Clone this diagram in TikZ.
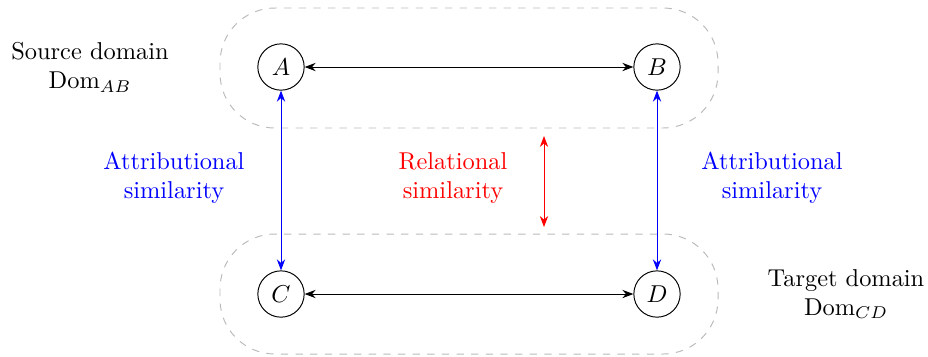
\documentclass[tikz,border=0pt]{standalone}
\usetikzlibrary{arrows.meta}
\begin{document}
\begin{tikzpicture}[x=0.41pt,y=-0.41pt,
  ent/.style={draw,circle,minimum size=19pt,inner sep=0pt,line width=0.4pt},
  dombox/.style={draw=black!27,dashed,rounded corners=22.5pt,line width=0.4pt},
  lbl/.style={align=center,inner sep=0pt},
  dbl/.style={{Stealth[length=4.5pt,width=3.4pt]}-{Stealth[length=4.5pt,width=3.4pt]},line width=0.4pt}]
\useasboundingbox (0,0) rectangle (928,356);
\draw[dombox] (220,8) rectangle (718,128);
\draw[dombox] (220,234) rectangle (718,354);
\node[ent] (A) at (281,67) {$A$};
\node[ent] (B) at (657,67) {$B$};
\node[ent] (C) at (281,294) {$C$};
\node[ent] (D) at (657,294) {$D$};
\draw[dbl] (A) -- (B);
\draw[dbl] (C) -- (D);
\draw[dbl,blue] (A) -- (C);
\draw[dbl,blue] (B) -- (D);
\coordinate (r1) at (544,136);
\coordinate (r2) at (544,227);
\draw[dbl,red] (r1) -- (r2);
\node[lbl] (src) at (90,67) {Source domain\\Dom$_{AB}$};
\node[lbl] (tgt) at (846,294) {Target domain\\Dom$_{CD}$};
\node[lbl,blue] (la) at (174,178) {Attributional\\similarity};
\node[lbl,red] (lr) at (453,178) {Relational\\similarity};
\node[lbl,blue] (lb) at (772,178) {Attributional\\similarity};
\end{tikzpicture}
\end{document}
